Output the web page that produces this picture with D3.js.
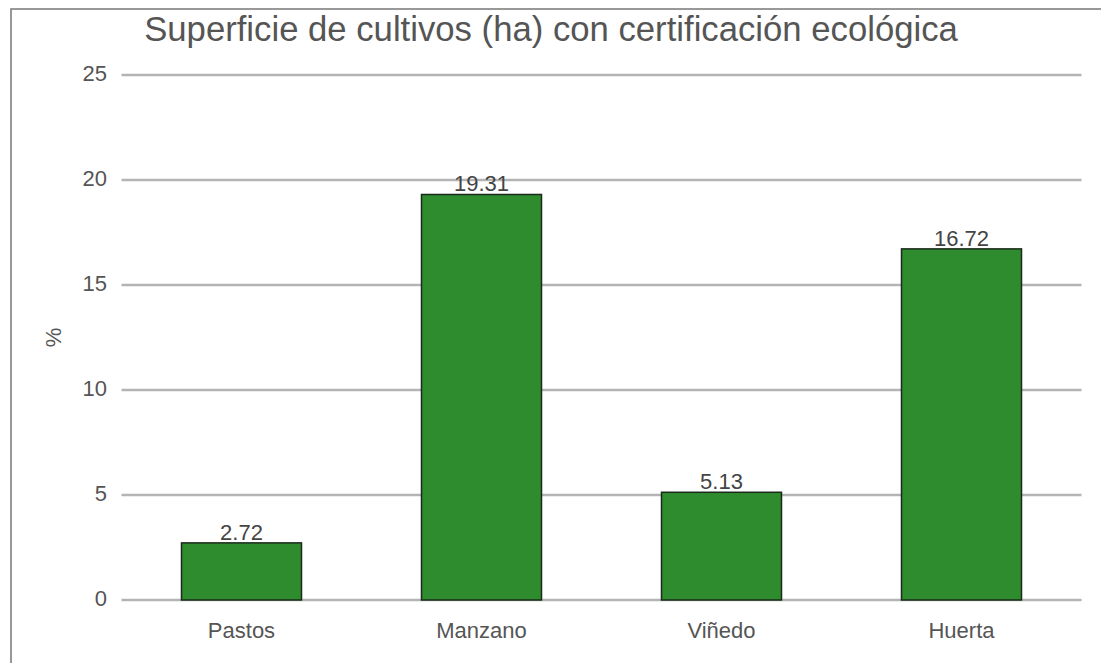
<!DOCTYPE html>
<html>
<head>
<meta charset="utf-8">
<script src="https://cdn.jsdelivr.net/npm/d3@7"></script>
<style>
body { margin:0; background:#fff; }
text { font-family: "Liberation Sans", Arial, sans-serif; }
</style>
</head>
<body>
<script>
var categories = ["Pastos", "Manzano", "Viñedo", "Huerta"];
var values = [2.72, 19.31, 5.13, 16.72];
var yTicks = [0, 5, 10, 15, 20, 25];

var width = 1101;
var height = 663;
var margin = {left:121.5, right:19.5, top:75, bottom:63};

var svg = d3.select("body").append("svg").attr("width",width).attr("height",height);

// frame (cropped at right/bottom)
svg.append("rect")
	.attr("x",11).attr("y",9)
	.attr("width",width).attr("height",height)
	.attr("fill","none").attr("stroke","#777").attr("stroke-width",1.5);

var x = d3.scaleBand().domain(categories)
	.range([margin.left, width-margin.right])
	.paddingInner(0.5).paddingOuter(0.25);
var y = d3.scaleLinear().domain([0,25]).range([height-margin.bottom, margin.top]);

// gridlines
svg.selectAll("line.grid")
	.data(yTicks)
	.enter().append("line")
		.attr("class","grid")
		.attr("x1",margin.left).attr("x2",width-margin.right)
		.attr("y1",function(d){ return y(d); })
		.attr("y2",function(d){ return y(d); })
		.attr("stroke","#b4b4b4").attr("stroke-width",2.5);

// y tick labels
svg.selectAll("text.ytick")
	.data(yTicks)
	.enter().append("text")
		.attr("class","ytick")
		.attr("x",107).attr("y",function(d){ return y(d); })
		.attr("text-anchor","end").attr("dominant-baseline","middle")
		.attr("font-size",22).attr("fill","#555")
		.text(function(d){ return d; });

// bars
svg.selectAll("rect.bar")
	.data(values)
	.enter().append("rect")
		.attr("class","bar")
		.attr("x",function(d,i){ return x(categories[i]); })
		.attr("y",function(d){ return y(d); })
		.attr("width",x.bandwidth())
		.attr("height",function(d){ return y(0)-y(d); })
		.attr("fill","#2e8b2e").attr("stroke","#1b2a1b").attr("stroke-width",1.5);

// value labels
svg.selectAll("text.val")
	.data(values)
	.enter().append("text")
		.attr("class","val")
		.attr("x",function(d,i){ return x(categories[i]) + x.bandwidth()/2; })
		.attr("y",function(d){ return y(d) - 3; })
		.attr("text-anchor","middle")
		.attr("font-size",22).attr("fill","#444")
		.text(function(d){ return d.toFixed(2); });

// x labels
svg.selectAll("text.xlab")
	.data(categories)
	.enter().append("text")
		.attr("class","xlab")
		.attr("x",function(d){ return x(d) + x.bandwidth()/2; })
		.attr("y",638)
		.attr("text-anchor","middle")
		.attr("font-size",22).attr("fill","#555")
		.text(function(d){ return d; });

// y axis title
svg.append("text")
	.attr("transform","translate(61,"+y(12.5)+") rotate(-90)")
	.attr("text-anchor","middle")
	.attr("font-size",22).attr("fill","#555")
	.text("%");

// title
svg.append("text")
	.attr("x",551).attr("y",41)
	.attr("text-anchor","middle")
	.attr("font-size",34.7).attr("fill","#555")
	.text("Superficie de cultivos (ha) con certificación ecológica");
</script>
</body>
</html>
